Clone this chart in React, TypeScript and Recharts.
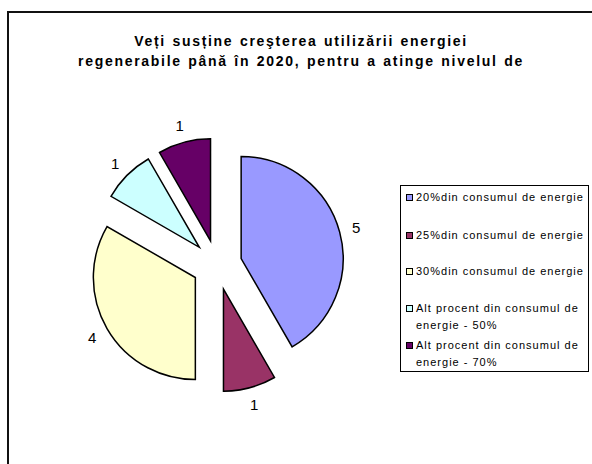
import { PieChart, Pie, Cell, Legend } from "recharts"

const categories = [
  "20%din consumul de energie",
  "25%din consumul de energie",
  "30%din consumul de energie",
  "Alt procent din consumul de energie - 50%",
  "Alt procent din consumul de energie - 70%",
]
const values = [5, 1, 4, 1, 1]
const colors = ["#9999FF", "#993366", "#FFFFCC", "#CCFFFF", "#660066"]
const titleLines = [
  "Veți susține creşterea utilizării energiei",
  "regenerabile până în 2020, pentru a atinge nivelul de",
]

const data = categories.map((name, i) => ({ name, value: values[i] }))

const RAD = Math.PI / 180
const CX = 212
const CY = 260
const RADIUS = 102
const EXPLODE = 25
const FONT = "'Liberation Sans', Arial, sans-serif"

const total = values.reduce((a, b) => a + b, 0)
let acc = 0
const offsets = values.map((v) => {
  const mid = 90 - (360 * (acc + v / 2)) / total
  acc += v
  return { dx: EXPLODE * Math.cos(mid * RAD), dy: -EXPLODE * Math.sin(mid * RAD) }
})

// legend rows: top of text, in px
const legendRows = [189, 227, 263, 300, 337]

function LegendBox() {
  return (
    <div
      style={{
        position: "relative",
        width: 189,
        height: 187,
        border: "1px solid #000",
        boxSizing: "border-box",
        background: "#fff",
        fontFamily: FONT,
        fontSize: 11,
        letterSpacing: 1,
        color: "#000",
      }}
    >
      {categories.map((c, i) => (
        <div
          key={c}
          style={{
            position: "absolute",
            left: 15,
            top: legendRows[i] - 186,
            width: 172,
            lineHeight: "17px",
          }}
        >
          <span
            style={{
              position: "absolute",
              left: -10,
              top: 5,
              width: 5,
              height: 5,
              border: "1px solid #000",
              background: colors[i],
            }}
          />
          {c}
        </div>
      ))}
    </div>
  )
}

function makeLabel(idx: number) {
  return (props: any) => {
    if (props.index !== idx) return null
    const r = props.outerRadius + 17
    const x = props.cx + r * Math.cos(-props.midAngle * RAD)
    const y = props.cy + r * Math.sin(-props.midAngle * RAD)
    return (
      <text
        x={x}
        y={y}
        textAnchor="middle"
        dominantBaseline="central"
        fontFamily={FONT}
        fontSize={15}
        fill="#000"
      >
        {props.value}
      </text>
    )
  }
}

export default function App() {
  return (
    <div style={{ position: "absolute", left: 0, top: 0, width: 592, height: 464, background: "#fff", overflow: "hidden" }}>
      <div
        style={{
          position: "absolute",
          left: 7,
          top: 11,
          width: 620,
          height: 480,
          borderLeft: "2px solid #111",
          borderTop: "2px solid #111",
        }}
      />
      <div
        style={{
          position: "absolute",
          left: 0,
          top: 31,
          width: 602,
          textAlign: "center",
          fontFamily: FONT,
          fontWeight: "bold",
          fontSize: 14,
          letterSpacing: 1.7,
          wordSpacing: 1,
          lineHeight: "20px",
          color: "#000",
        }}
      >
        {titleLines.map((t) => (
          <div key={t}>{t}</div>
        ))}
      </div>
      <div style={{ position: "absolute", left: 0, top: 0 }}>
        <PieChart width={592} height={464}>
          {values.map((_, k) => (
            <Pie
              key={k}
              data={data}
              dataKey="value"
              nameKey="name"
              cx={CX + offsets[k].dx}
              cy={CY + offsets[k].dy}
              outerRadius={RADIUS}
              startAngle={90}
              endAngle={-270}
              labelLine={false}
              label={makeLabel(k)}
              isAnimationActive={false}
              legendType="none"
            >
              {data.map((d, i) => (
                <Cell
                  key={d.name}
                  fill={i === k ? colors[i] : "none"}
                  stroke={i === k ? "#000" : "none"}
                  strokeWidth={1.5}
                />
              ))}
            </Pie>
          ))}
          <Legend
            content={() => <LegendBox />}
            wrapperStyle={{ position: "absolute", left: 400, top: 185, width: 189, height: 187 }}
          />
        </PieChart>
      </div>
    </div>
  )
}
